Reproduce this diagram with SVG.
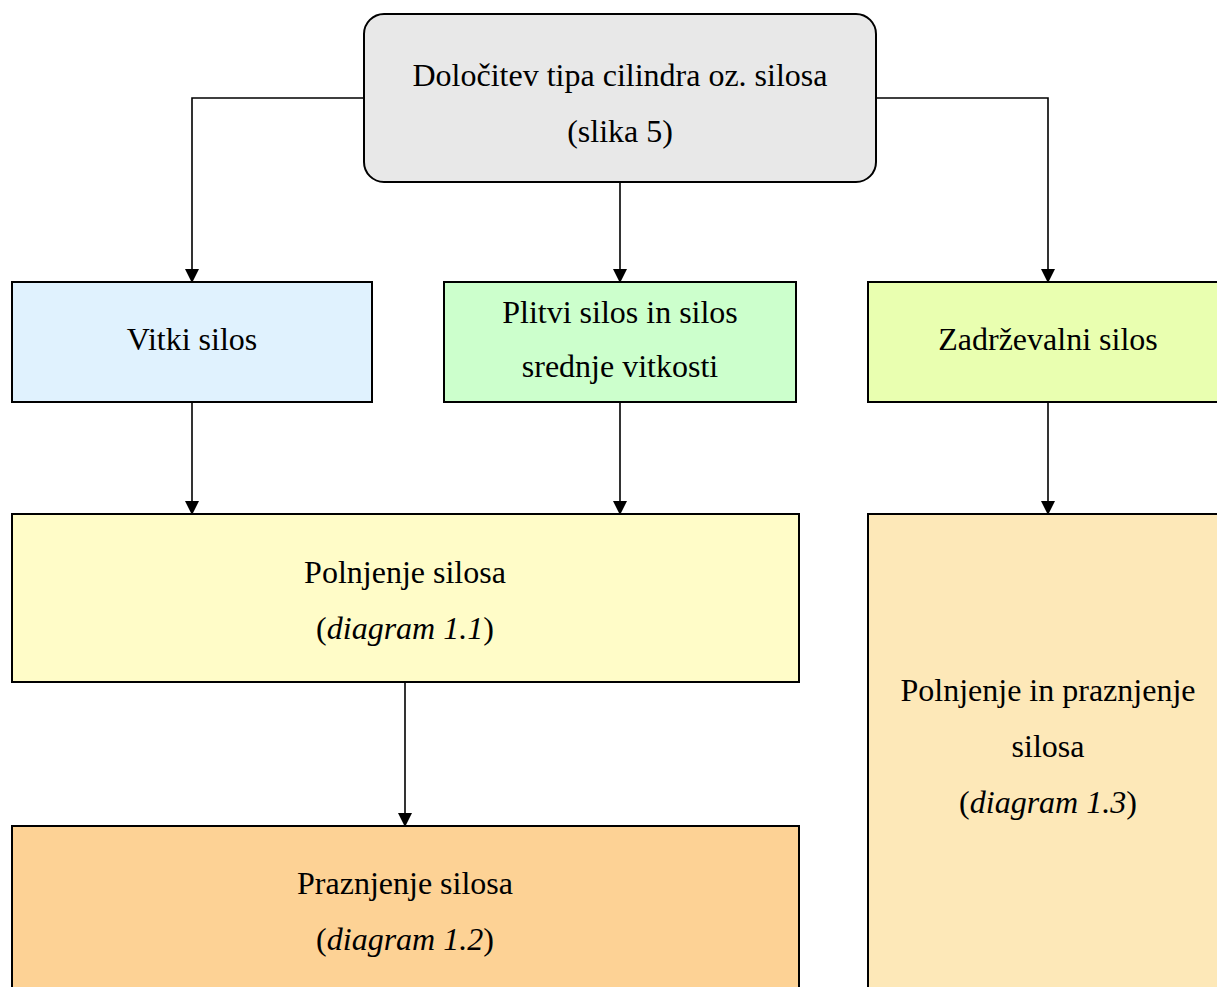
<svg xmlns="http://www.w3.org/2000/svg" width="1217" height="987" viewBox="0 0 1217 987">
<defs>
<marker id="arr" markerWidth="14" markerHeight="14" refX="13" refY="7" orient="auto" markerUnits="userSpaceOnUse">
<path d="M0,0 L14,7 L0,14 z" fill="#000"/>
</marker>
<style>
.box{stroke:#000;stroke-width:2}
.t{font-family:"Liberation Serif","Times New Roman",serif;font-size:32px;fill:#000;text-anchor:middle}
.i{font-style:italic}
.c{fill:none;stroke:#000;stroke-width:1.6;marker-end:url(#arr)}
</style>
</defs>
<rect width="1217" height="987" fill="#fff"/>
<g id="connectors">
<path class="c" d="M364,98 H192 V282"/>
<path class="c" d="M876,98 H1048 V282"/>
<path class="c" d="M620,182 V282"/>
<path class="c" d="M192,402 V514"/>
<path class="c" d="M620,402 V514"/>
<path class="c" d="M1048,402 V514"/>
<path class="c" d="M405,682 V826"/>
</g>
<g id="n-top">
<rect class="box" x="364" y="14" width="512" height="168" rx="20" fill="#e8e8e8"/>
<text class="t" x="620" y="86">Določitev tipa cilindra oz. silosa</text>
<text class="t" x="620" y="142">(slika 5)</text>
</g>
<g id="n-vitki">
<rect class="box" x="12" y="282" width="360" height="120" fill="#e0f2fe"/>
<text class="t" x="192" y="350">Vitki silos</text>
</g>
<g id="n-plitvi">
<rect class="box" x="444" y="282" width="352" height="120" fill="#ccffcc"/>
<text class="t" x="620" y="323">Plitvi silos in silos</text>
<text class="t" x="620" y="377">srednje vitkosti</text>
</g>
<g id="n-zadr">
<rect class="box" x="868" y="282" width="360" height="120" fill="#e9ffb0"/>
<text class="t" x="1048" y="350">Zadrževalni silos</text>
</g>
<g id="n-poln">
<rect class="box" x="12" y="514" width="787" height="168" fill="#fffcc8"/>
<text class="t" x="405" y="583">Polnjenje silosa</text>
<text class="t" x="405" y="639">(<tspan class="i">diagram 1.1</tspan>)</text>
</g>
<g id="n-prazn">
<rect class="box" x="12" y="826" width="787" height="180" fill="#fdd295"/>
<text class="t" x="405" y="894">Praznjenje silosa</text>
<text class="t" x="405" y="950">(<tspan class="i">diagram 1.2</tspan>)</text>
</g>
<g id="n-polnprazn">
<rect class="box" x="868" y="514" width="360" height="490" fill="#fde8b8"/>
<text class="t" x="1048" y="701">Polnjenje in praznjenje</text>
<text class="t" x="1048" y="757">silosa</text>
<text class="t" x="1048" y="813">(<tspan class="i">diagram 1.3</tspan>)</text>
</g>
</svg>
